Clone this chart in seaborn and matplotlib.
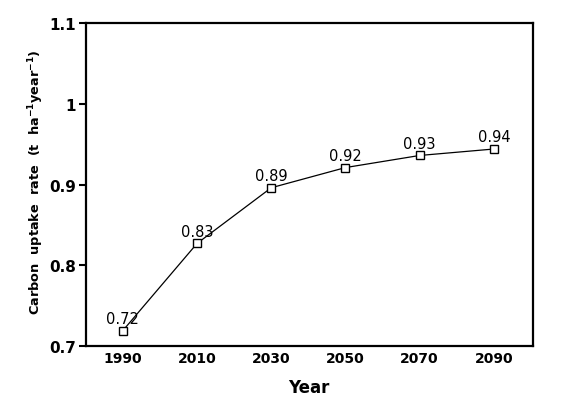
import matplotlib
matplotlib.use("Agg")
import matplotlib.pyplot as plt
import seaborn as sns
import pandas as pd

years = [1990, 2010, 2030, 2050, 2070, 2090]
uptake = [0.719, 0.827, 0.896, 0.921, 0.936, 0.944]
point_labels = ["0.72", "0.83", "0.89", "0.92", "0.93", "0.94"]
y_ticks = [0.7, 0.8, 0.9, 1.0, 1.1]
y_tick_labels = ["0.7", "0.8", "0.9", "1", "1.1"]

sns.set_theme(style="white")
plt.rcParams['font.family'] = ['DejaVu Sans']
plt.rcParams['mathtext.default'] = 'bf'

df = pd.DataFrame({"Year": years, "Uptake": uptake})

fig = plt.figure(figsize=(5.68, 4.02), dpi=100)
ax = fig.add_axes([0.151, 0.137, 0.787, 0.803])

sns.lineplot(data=df, x="Year", y="Uptake", ax=ax, color="black", linewidth=0.9,
             marker="s", markersize=5.5, markerfacecolor="white",
             markeredgecolor="black", markeredgewidth=1.0)

for x, y, t in zip(years, uptake, point_labels):
    ax.annotate(t, (x, y), xytext=(0, 3.5), textcoords="offset points",
                ha="center", va="bottom", fontsize=10.5, color="black")

ax.set_xlim(1980, 2100.5)
ax.set_ylim(0.7, 1.1)
ax.set_xticks(years)
ax.set_xticklabels([str(y) for y in years], fontsize=10, fontweight="bold", color="black")
ax.set_yticks(y_ticks)
ax.set_yticklabels(y_tick_labels, fontsize=11, fontweight="bold", color="black")
ax.tick_params(axis="y", left=True, direction="out", length=5, width=1.5, color="black", pad=2)
ax.tick_params(axis="x", bottom=True, length=0, pad=4)

for s in ax.spines.values():
    s.set_color("black")
    s.set_linewidth(1.6)

ax.set_xlabel("Year", fontsize=12, fontweight="bold", labelpad=9, color="black")
ax.set_ylabel(r"Carbon  uptake  rate  (t  ha$^{-1}$year$^{-1}$)", fontsize=9.3,
              fontweight="bold", color="black")
ax.yaxis.set_label_coords(-0.088, 0.51)

fig.savefig("out.png", dpi=100)
